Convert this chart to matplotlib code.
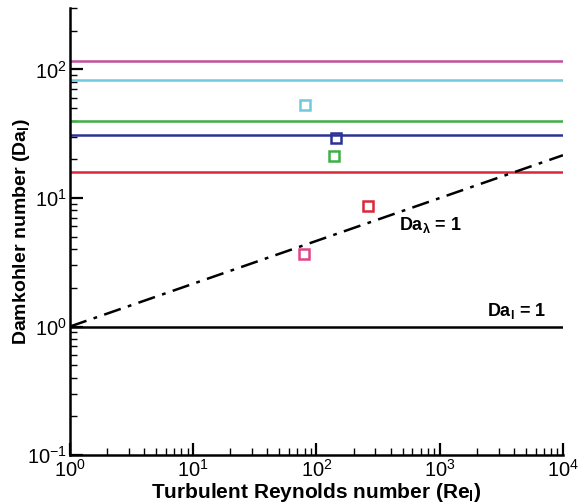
import matplotlib
matplotlib.use("Agg")
import matplotlib.pyplot as plt
from matplotlib.ticker import LogLocator, NullFormatter

plt.rcParams["font.family"] = ["Liberation Sans", "DejaVu Sans"]
plt.rcParams["mathtext.default"] = "regular"

# 水平线（各工况的 Da_l）
line_vals = [117, 82, 39.5, 31, 16.0]
line_colors = ["#c0509e", "#6fcadb", "#3fae45", "#2d3396", "#d8283a"]

# 数据点 (Re_l, Da_l)
pt_re = [80, 144, 140, 263, 79]
pt_da = [53, 29.5, 21.2, 8.7, 3.65]
pt_colors = ["#6fcadb", "#2d3396", "#3fae45", "#d8283a", "#e0448c"]

# Da_lambda = 1 线
dl_re = [1, 1e4]
dl_da = [1, 21.5]

fig = plt.figure(figsize=(5.78, 5.04), dpi=100)
ax = fig.add_axes([0.121, 0.097, 0.853, 0.887])
ax.set_xscale("log")
ax.set_yscale("log")

for v, c in zip(line_vals, line_colors):
    ax.plot([1, 1e4], [v, v], color=c, linewidth=1.8)
ax.plot([1, 1e4], [1, 1], color="black", linewidth=1.8)
ax.plot(dl_re, dl_da, color="black", linewidth=1.8, linestyle=(0, (7, 3, 1.5, 3)))

for x, y, c in zip(pt_re, pt_da, pt_colors):
    ax.plot(x, y, marker="s", markersize=7.5, markerfacecolor="none",
            markeredgecolor=c, markeredgewidth=1.8, linestyle="none")

ax.text(470, 6.2, r"Da$_\lambda$ = 1", fontsize=13, fontweight="bold", va="center")
ax.text(2400, 1.33, r"Da$_l$ = 1", fontsize=13, fontweight="bold", va="center")

ax.set_xlim(1, 1e4)
ax.set_ylim(0.1, 300)
ax.spines["top"].set_visible(False)
ax.spines["right"].set_visible(False)
ax.spines["left"].set_linewidth(1.8)
ax.spines["bottom"].set_linewidth(1.8)

ax.xaxis.set_major_locator(LogLocator(base=10, numticks=10))
ax.yaxis.set_major_locator(LogLocator(base=10, numticks=10))
ax.xaxis.set_minor_locator(LogLocator(base=10, subs=range(2, 10), numticks=20))
ax.yaxis.set_minor_locator(LogLocator(base=10, subs=range(2, 10), numticks=20))
ax.xaxis.set_minor_formatter(NullFormatter())
ax.yaxis.set_minor_formatter(NullFormatter())
ax.tick_params(which="major", direction="in", length=9, width=1.6, labelsize=14.5)
ax.tick_params(axis="y", which="major", pad=2)
ax.tick_params(axis="x", which="major", pad=3)
ax.tick_params(which="minor", direction="in", length=5, width=1.0)

ax.set_xlabel(r"Turbulent Reynolds number (Re$_l$)", fontsize=15, fontweight="bold", labelpad=0)
ax.set_ylabel(r"Damkohler number (Da$_l$)", fontsize=14, fontweight="bold")
ax.yaxis.set_label_coords(-0.077, 0.5)

fig.savefig("out.png", dpi=100)
